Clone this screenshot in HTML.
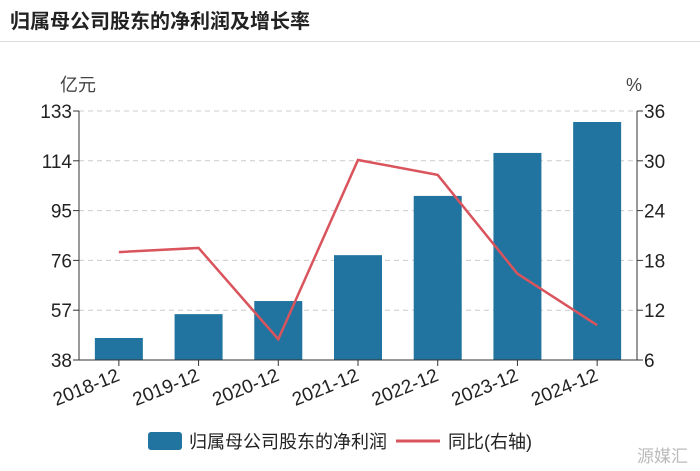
<!DOCTYPE html>
<html><head><meta charset="utf-8"><style>
body{margin:0;width:700px;height:471px;background:#fff;overflow:hidden;font-family:"Liberation Sans","Noto Sans CJK SC",sans-serif}
#title{position:absolute;left:10px;top:5px;font-size:20px;font-weight:bold;color:#222}
#sep{position:absolute;left:0;top:41px;width:700px;height:1px;background:#ddd}
svg{position:absolute;left:0;top:0}
</style></head><body>
<div id="title">归属母公司股东的净利润及增长率</div>
<div id="sep"></div>
<svg id="chart" width="700" height="471"></svg>
<script>
const categories=["2018-12","2019-12","2020-12","2021-12","2022-12","2023-12","2024-12"];
const profit=[46.4,55.5,60.5,78,100.6,117,128.8];
const growth=[19,19.5,8.5,30.1,28.3,16.4,10.2];
const leftTicks=[38,57,76,95,114,133];
const rightTicks=[6,12,18,24,30,36];
const L=79,R=637,T=111,B=360;
const bw=(R-L)/categories.length;
const xc=i=>L+bw*(i+0.5);
const yl=v=>B-(v-38)/(133-38)*(B-T);
const yr=v=>B-(v-6)/(36-6)*(B-T);
const svg=document.getElementById('chart');
const NS='http://www.w3.org/2000/svg';
function mk(t,a,p){const e=document.createElementNS(NS,t);for(const k in a)e.setAttribute(k,a[k]);(p||svg).appendChild(e);return e;}
leftTicks.forEach((v,i)=>{
 if(i>0){const g=mk('line',{x1:L,x2:R,y1:yl(v),y2:yl(v),stroke:'#ccc','stroke-dasharray':'5,4'});
 
 }
 mk('line',{x1:L-6,x2:L,y1:yl(v),y2:yl(v),stroke:'#333'});
 const t=mk('text',{x:L-7,y:yl(v)+7,'text-anchor':'end','font-size':19,fill:'#222'});t.textContent=v;
 
 
});
rightTicks.forEach(v=>{
 mk('line',{x1:R,x2:R+6,y1:yr(v),y2:yr(v),stroke:'#333'});
 const t=mk('text',{x:R+7,y:yr(v)+7,'font-size':19,fill:'#222'});t.textContent=v;
 
 
});
profit.forEach((v,i)=>{
 const r=mk('rect',{x:xc(i)-24,y:yl(v),width:48,height:B-yl(v),fill:'#21749f'});
 
 
});
mk('line',{x1:L,x2:L,y1:T,y2:B,stroke:'#333'});
mk('line',{x1:R,x2:R,y1:T,y2:B,stroke:'#333'});
mk('line',{x1:L,x2:R,y1:B,y2:B,stroke:'#333'});
categories.forEach((c,i)=>{
 mk('line',{x1:xc(i),x2:xc(i),y1:B,y2:B+6,stroke:'#333'});
 const t=mk('text',{x:xc(i)+2,y:B+20,'text-anchor':'end','font-size':19,fill:'#222',transform:`rotate(-22 ${xc(i)+2} ${B+20})`});t.textContent=c;
 
 
});
const pl=mk('polyline',{points:growth.map((v,i)=>xc(i)+','+yr(v)).join(' '),fill:'none',stroke:'#d9545c','stroke-width':2.5});


let t=mk('text',{x:60,y:91,'font-size':18,fill:'#444'});t.textContent='亿元';


t=mk('text',{x:626,y:91,'font-size':18,fill:'#444'});t.textContent='%';


let r=mk('rect',{x:148,y:432,width:34,height:18,rx:3,fill:'#21749f'});


t=mk('text',{x:189,y:448,'font-size':18,fill:'#222'});t.textContent='归属母公司股东的净利润';


let l=mk('line',{x1:396,x2:440,y1:441,y2:441,stroke:'#d9545c','stroke-width':3});


t=mk('text',{x:448,y:448,'font-size':18,fill:'#222'});t.textContent='同比(右轴)';


t=mk('text',{x:637,y:462,'font-size':17,fill:'#bbb'});t.textContent='源媒汇';


</script>
</body></html>
